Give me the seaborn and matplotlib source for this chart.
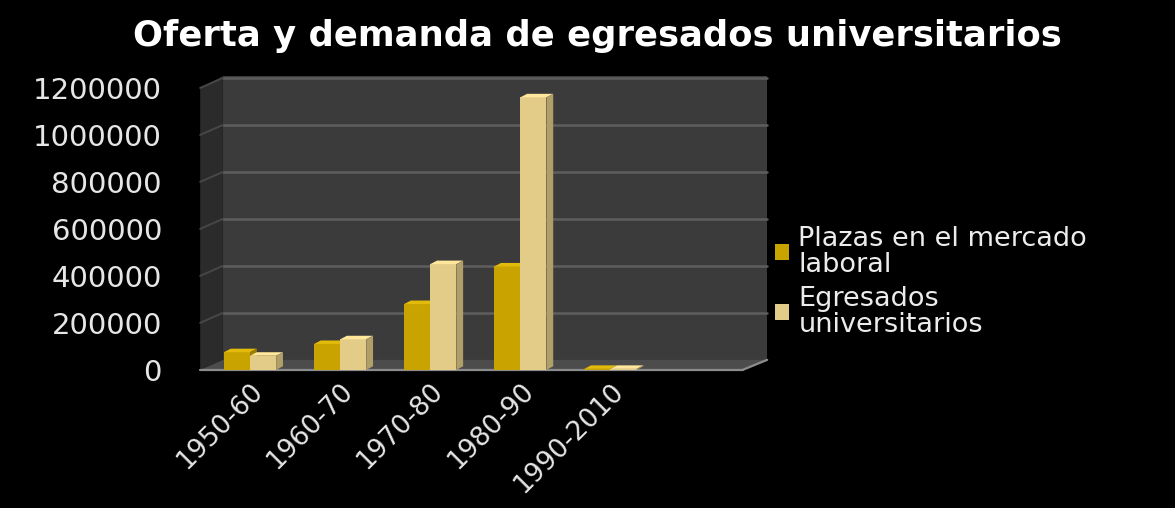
import matplotlib
matplotlib.use("Agg")
import matplotlib.pyplot as plt
from matplotlib.patches import Polygon
import matplotlib.colors as mcolors
import seaborn as sns
import pandas as pd
import numpy as np

periodos = ["1950-60", "1960-70", "1970-80", "1980-90", "1990-2010"]
plazas = [75000, 110000, 280000, 440000, 4000]
egresados = [60000, 130000, 450000, 1160000, 4000]
series = ["Plazas en el mercado\nlaboral", "Egresados\nuniversitarios"]
y_ticks = [0, 200000, 400000, 600000, 800000, 1000000, 1200000]

df = pd.DataFrame({
    "periodo": periodos * 2,
    "valor": plazas + egresados,
    "serie": [series[0]] * len(periodos) + [series[1]] * len(periodos),
})

sns.set_theme(style="dark")
plt.rcParams["font.family"] = ["DejaVu Sans"]

fig = plt.figure(figsize=(11.75, 5.08), dpi=100, facecolor="black")
ax = fig.add_axes([0.1745, 0.272, 0.460, 0.578])
ax.set_facecolor("none")

y_max = 1250000
depth_x = 0.033          # axes-fraction shift of the back wall
depth_y = 42500          # data-unit lift of the back wall

# box of the 3-D style chart: back wall, side wall and floor
ax.add_patch(Polygon([(depth_x, 0.034), (1.04, 0.034), (1.04, 1.0), (depth_x, 1.0)],
                     closed=True, transform=ax.transAxes, clip_on=False,
                     facecolor="#3b3b3b", edgecolor="none", zorder=0))
ax.add_patch(Polygon([(-0.009, 0), (-0.009, 0.96), (depth_x, 1.0), (depth_x, 0.034)],
                     closed=True, transform=ax.transAxes, clip_on=False,
                     facecolor="#2b2b2b", edgecolor="none", zorder=0))
ax.add_patch(Polygon([(-0.009, 0), (0.995, 0), (1.04, 0.034), (depth_x, 0.034)],
                     closed=True, transform=ax.transAxes, clip_on=False,
                     facecolor="#4c4c4c", edgecolor="none", zorder=0.5))

grid_tr = ax.get_yaxis_transform()
for v in y_ticks[1:]:
    ax.plot([depth_x, 1.04], [v + depth_y, v + depth_y], transform=grid_tr,
            color="#5e5e5e", lw=1.8, clip_on=False, zorder=0.6)
    ax.plot([-0.009, depth_x], [v, v + depth_y], transform=grid_tr,
            color="#474747", lw=1.4, clip_on=False, zorder=0.6)
ax.plot([-0.009, 0.995], [0, 0], transform=grid_tr, color="#8c8c8c",
        lw=1.6, clip_on=False, zorder=0.7)
ax.plot([0.995, 1.04], [0, depth_y], transform=grid_tr, color="#8c8c8c",
        lw=1.6, clip_on=False, zorder=0.7)

palette = {series[0]: "#c9a400", series[1]: "#e3cc87"}
sns.barplot(data=df, x="periodo", y="valor", hue="serie", palette=palette,
            width=0.58, saturation=1, edgecolor="none", ax=ax, legend=True)

# depth faces on every bar
dx, dy = 0.075, 15000
for k, container in enumerate(ax.containers):
    base = np.array(mcolors.to_rgb(palette[series[k]]))
    top_c = np.clip(base * 1.08 + 0.04, 0, 1)
    side_c = base * 0.78
    for bar in container:
        bar.set_zorder(2 + k)
        x0, x1 = bar.get_x(), bar.get_x() + bar.get_width()
        h = bar.get_height()
        ax.add_patch(Polygon([(x0, h), (x1, h), (x1 + dx, h + dy), (x0 + dx, h + dy)],
                             closed=True, facecolor=top_c, edgecolor="none",
                             zorder=2 + k, clip_on=False))
        ax.add_patch(Polygon([(x1, 0), (x1 + dx, dy), (x1 + dx, h + dy), (x1, h)],
                             closed=True, facecolor=side_c, edgecolor="none",
                             zorder=2 + k, clip_on=False))

ax.set_xlim(-0.5, 5.5)
ax.set_ylim(0, y_max)
ax.set_yticks(y_ticks)
ax.set_yticklabels([str(v) for v in y_ticks])
ax.grid(False)
for side in ["top", "right", "left", "bottom"]:
    ax.spines[side].set_visible(False)

ax.tick_params(axis="y", colors="#e6e6e6", labelsize=21, length=0, pad=31)
ax.tick_params(axis="x", colors="#e6e6e6", labelsize=19, length=0, pad=6)
ax.set_xticks(range(len(periodos)))
ax.set_xticklabels(periodos, rotation=45, ha="right", rotation_mode="anchor")
ax.set_xlabel("")
ax.set_ylabel("")

fig.suptitle("Oferta y demanda de egresados universitarios", color="white",
             fontsize=25.5, fontweight="bold", x=0.508, y=0.962)

leg = ax.legend(loc="center left", bbox_to_anchor=(1.035, 0.30), frameon=False,
                fontsize=19.5, handlelength=0.5, handleheight=0.5,
                handletextpad=0.35, labelspacing=0.3, borderaxespad=0)
for text in leg.get_texts():
    text.set_color("#ececec")
    text.set_linespacing(1.0)

fig.savefig("out.png", dpi=100, facecolor="black")
